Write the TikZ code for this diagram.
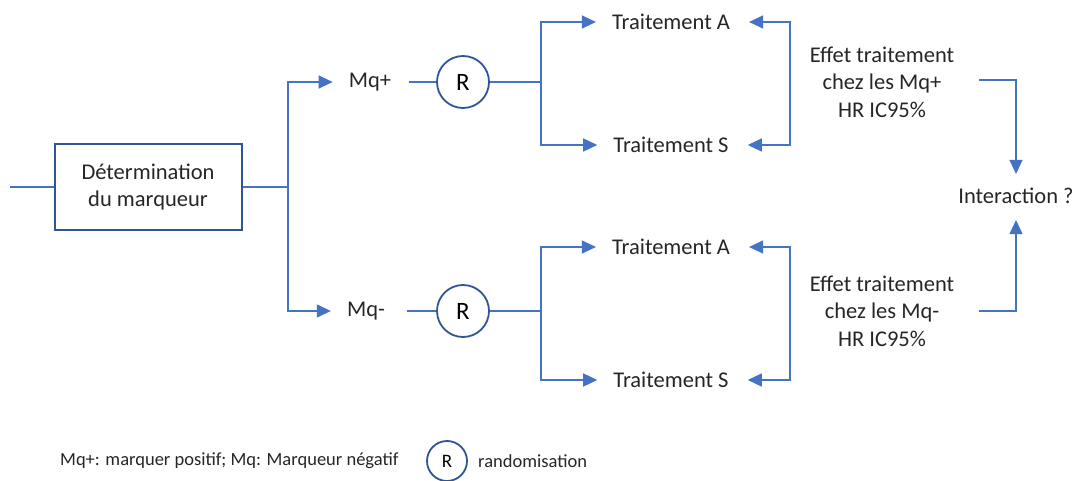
\documentclass[tikz,border=0pt]{standalone}
\usepackage{fontspec}
\setmainfont{Carlito}
\usetikzlibrary{arrows.meta, positioning}
\definecolor{lineblue}{HTML}{4472C4}
\definecolor{boxblue}{HTML}{2F5597}
\tikzstyle{txt} = [inner sep=0pt, align=center, text=black!85, font=\fontsize{22.5}{27.5}\selectfont]
\tikzstyle{marker} = [rectangle, draw=boxblue, line width=2pt, minimum width=187pt, minimum height=86pt, text=black!85, align=center, font=\fontsize{22.5}{27}\selectfont]
\tikzstyle{rando} = [circle, draw=boxblue, line width=1.8pt, minimum size=52pt, inner sep=0pt, text=black, font=\fontsize{25}{30}\selectfont]
\tikzstyle{link} = [draw=lineblue, line width=1.3pt]
\tikzstyle{arrow} = [link, -{Triangle[length=14pt, width=13pt]}, lineblue]

\begin{document}
\begin{tikzpicture}[x=1pt, y=-1pt]
	\useasboundingbox (0,0) rectangle (1078,481);

	% Marker nodes - - - - - - - - - - - - - - - - - - - - - - - - - - - - - - -
	\coordinate(entry) at (10,187);
	\node(mdet)[marker] at (148,187) {Détermination\\du marqueur};
	\coordinate(msplit) at (288,187);

	%POSITIVE ARM . . . . . . . . . . . . . . . . . . . . . . . . . . . . . . .
	\node(mqp)[txt] at (370,82) {Mq+};
	\node(rp)[rando, on grid, right=93pt of mqp] {R};
	\coordinate(rsplitp) at (541,82);
	\node(tap)[txt] at (671,22) {Traitement A};
	\node(tsp)[txt, on grid, below=123pt of tap] {Traitement S};
	\coordinate(bracketp) at (790,83);
	\node(effp)[txt] at (882,82) {Effet traitement\\chez les Mq+\\HR IC95\%};

	%NEGATIVE ARM . . . . . . . . . . . . . . . . . . . . . . . . . . . . . . .
	\node(mqm)[txt] at (366,311) {Mq-};
	\node(rm)[rando] at (463,311) {R};
	\coordinate(rsplitm) at (541,311);
	\node(tam)[txt] at (671,247) {Traitement A};
	\node(tsm)[txt, on grid, below=133pt of tam] {Traitement S};
	\coordinate(bracketm) at (790,313);
	\node(effm)[txt] at (882,311) {Effet traitement\\chez les Mq-\\HR IC95\%};

	%INTERACTION . . . . . . . . . . . . . . . . . . . . . . . . . . . . . . . .
	\node(inter)[txt] at (1016,196) {Interaction ?};

	% Legend - - - - - - - - - - - - - - - - - - - - - - - - - - - - - - - - - -
	\node(legmq)[txt, anchor=west, font=\fontsize{18.5}{22}\selectfont] at (60,461) {Mq+: marquer positif; Mq: Marqueur négatif};
	\node(legr)[rando, minimum size=40pt, font=\fontsize{19}{22}\selectfont] at (447,461) {R};
	\node(legrtxt)[txt, anchor=west, font=\fontsize{18.5}{22}\selectfont] at (478,461) {randomisation};

	% Marker arrows - - - - - - - - - - - - - - - - - - - - - - - - - - - - - - -
	\draw[link](entry)--(mdet.west);
	\draw[link](mdet.east)--(msplit);
	\draw[arrow](msplit)|-([xshift=-16pt]mqp.west);
	\draw[arrow](msplit)|-([xshift=-16pt]mqm.west |- mqm);

	% Positive arm arrows - - - - - - - - - - - - - - - - - - - - - - - - - - - -
	\draw[link]([xshift=18pt]mqp.east)--(rp.west);
	\draw[link](rp.east)--(rsplitp);
	\draw[arrow](rsplitp)|-([xshift=-16pt]tap.west);
	\draw[arrow](rsplitp)|-([xshift=-16pt]tsp.west);
	\draw[arrow](bracketp)|-([xshift=19pt]tap.east);
	\draw[arrow](bracketp)|-([xshift=19pt]tsp.east);
	\draw[arrow]([xshift=25pt,yshift=2pt]effp.east)-|([yshift=14pt]inter.north);

	% Negative arm arrows - - - - - - - - - - - - - - - - - - - - - - - - - - - -
	\draw[link]([xshift=22pt]mqm.east)--(rm.west);
	\draw[link](rm.east)--(rsplitm);
	\draw[arrow](rsplitm)|-([xshift=-16pt]tam.west);
	\draw[arrow](rsplitm)|-([xshift=-16pt]tsm.west);
	\draw[arrow](bracketm)|-([xshift=19pt]tam.east);
	\draw[arrow](bracketm)|-([xshift=19pt]tsm.east);
	\draw[arrow]([xshift=25pt]effm.east)-|([yshift=-16pt]inter.south);

\end{tikzpicture}
\end{document}
